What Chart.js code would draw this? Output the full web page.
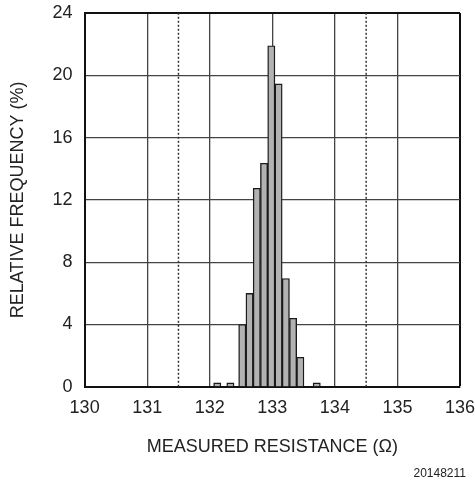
<!DOCTYPE html>
<html>
<head>
<meta charset="utf-8">
<script src="https://cdn.jsdelivr.net/npm/chart.js@4/dist/chart.umd.min.js"></script>
<style>
  html, body { margin: 0; padding: 0; background: #fff; }
  #wrap { position: relative; width: 475px; height: 487px; }
  #note {
    position: absolute; right: 9px; top: 466px;
    font: 12px 'Liberation Sans', Arial, sans-serif; color: #222;
  }
</style>
</head>
<body>
<div id="wrap"><canvas id="histChart"></canvas><div id="note">20148211</div></div>
<script>
// Histogram data
const binCenters = [132.12, 132.33, 132.52, 132.636, 132.752, 132.868, 132.984, 133.10, 133.216, 133.332, 133.448, 133.71];
const frequency = [0.25, 0.25, 4.0, 6.0, 12.75, 14.35, 21.9, 19.45, 6.95, 4.4, 1.9, 0.25];
const limitLines = [131.5, 134.5];
const xTicks = [130, 131, 132, 133, 134, 135, 136];
const yTicks = [0, 4, 8, 12, 16, 20, 24];

const font = { family: "'Liberation Sans', Arial, sans-serif", size: 18 };

const datasets = [{
    type: 'bar',
    data: binCenters.map((x, i) => ({ x: x, y: frequency[i] })),
    backgroundColor: '#b2b2b2',
    borderColor: '#1a1a1a',
    borderWidth: 1.4,
    barPercentage: 1,
    categoryPercentage: 1,
    order: 1
}];

limitLines.forEach(v => {
    datasets.push({
        type: 'line',
        data: [{ x: v, y: yTicks[0] }, { x: v, y: yTicks[yTicks.length - 1] }],
        borderColor: '#333',
        borderWidth: 1.5,
        borderDash: [2, 2],
        pointRadius: 0,
        order: 2
    });
});

// drop the label overhang so layout.padding decides the plot edges
function noOverhang(scale) {
    scale.paddingTop = 0;
    scale.paddingRight = 0;
}

const ctx = document.getElementById('histChart').getContext('2d');
const histChart = new Chart(ctx, {
    data: { datasets: datasets },
    options: {
        responsive: true,
        maintainAspectRatio: false,
        animation: false,
        layout: {
            autoPadding: false,
            padding: { left: 2, right: 15, top: 13, bottom: 24 }
        },
        plugins: {
            legend: { display: false },
            tooltip: { enabled: false }
        },
        scales: {
            x: {
                type: 'linear',
                min: xTicks[0],
                max: xTicks[xTicks.length - 1],
                offset: false,
                afterBuildTicks: axis => { axis.ticks = xTicks.map(v => ({ value: v })); },
                afterFit: noOverhang,
                ticks: { color: '#222', font: font, padding: 10, maxRotation: 0 },
                grid: {
                    drawTicks: false,
                    offset: false,
                    color: ctx => ctx.tick && ctx.tick.value === 136 ? '#111' : '#444',
                    lineWidth: ctx => ctx.tick && ctx.tick.value === 136 ? 2 : 1.3
                },
                border: { color: '#111', width: 2 },
                title: {
                    display: true,
                    text: 'MEASURED RESISTANCE (\u03A9)',
                    color: '#222',
                    font: font,
                    padding: { top: 8, bottom: 5 }
                }
            },
            y: {
                min: yTicks[0],
                max: yTicks[yTicks.length - 1],
                afterBuildTicks: axis => { axis.ticks = yTicks.map(v => ({ value: v })); },
                afterFit: noOverhang,
                ticks: { color: '#222', font: font, padding: 12 },
                grid: {
                    drawTicks: false,
                    color: ctx => ctx.tick && ctx.tick.value === 24 ? '#111' : '#444',
                    lineWidth: ctx => ctx.tick && ctx.tick.value === 24 ? 2 : 1.3
                },
                border: { color: '#111', width: 2 },
                title: {
                    display: true,
                    text: 'RELATIVE FREQUENCY (%)',
                    color: '#222',
                    font: font,
                    padding: { top: 5, bottom: 12 }
                }
            }
        }
    }
});
</script>
</body>
</html>
